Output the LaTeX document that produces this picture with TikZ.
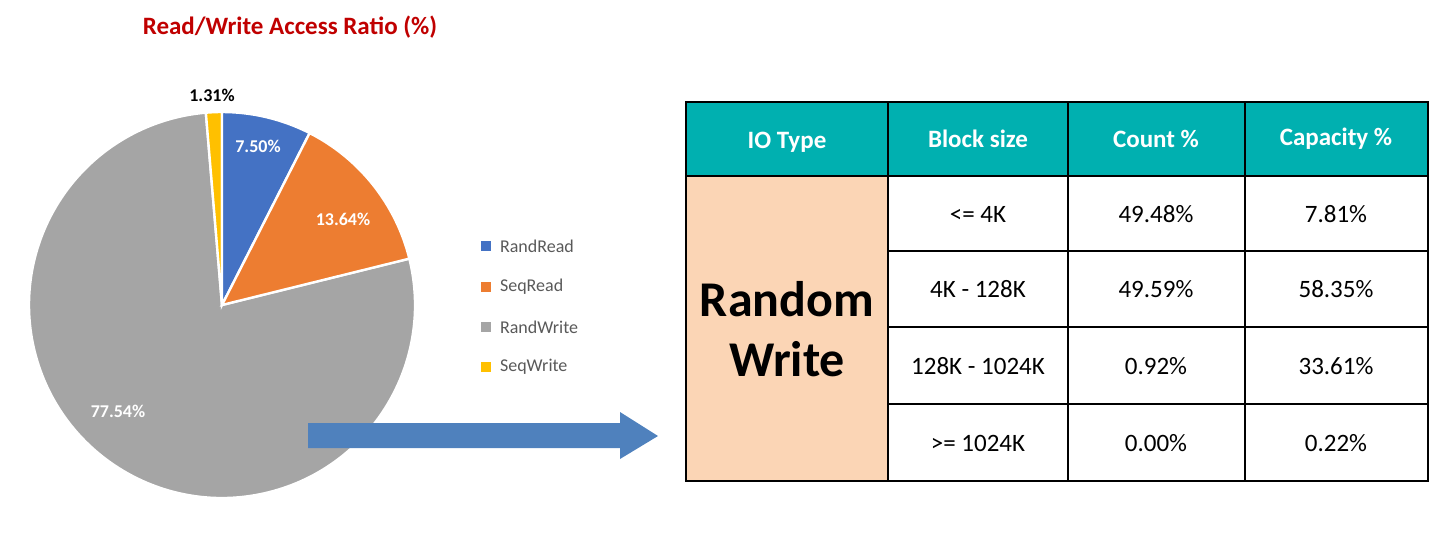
\documentclass[tikz,border=0pt]{standalone}
\usepackage{fontspec}
\setmainfont{Carlito}
\definecolor{cblue}{HTML}{4472C4}
\definecolor{corange}{HTML}{ED7D31}
\definecolor{cgray}{HTML}{A5A5A5}
\definecolor{cyellow}{HTML}{FFC000}
\definecolor{ctitle}{HTML}{C00000}
\definecolor{cteal}{HTML}{00B0B0}
\definecolor{cpeach}{HTML}{FBD5B5}
\definecolor{carrow}{HTML}{4F81BD}
\definecolor{clegend}{HTML}{595959}
\begin{document}
\begin{tikzpicture}[x=0.5pt,y=0.5pt,
  slice/.style={draw=white,line width=1.2pt},
  plab/.style={font=\fontsize{9}{10}\selectfont\bfseries,text=white},
  leg/.style={font=\fontsize{9}{10}\selectfont,text=clegend,anchor=west},
  hdr/.style={font=\fontsize{12.5}{14}\selectfont\bfseries,text=white},
  cell/.style={font=\fontsize{12.5}{14}\selectfont}]
\useasboundingbox (0,0) rectangle (1453,554);
\node[font=\fontsize{12.5}{14}\selectfont\bfseries,text=ctitle] (title) at (290,527) {Read/Write Access Ratio (\%)};
% pie
\coordinate (c) at (222,249);
\def\R{193}
\fill[cgray,slice] (c) -- ++(13.9:\R) arc[start angle=13.9,end angle=-265.2,radius=\R] -- cycle;
\fill[cyellow,slice] (c) -- ++(94.8:\R) arc[start angle=94.8,end angle=90,radius=\R] -- cycle;
\fill[cblue,slice] (c) -- ++(90:\R) arc[start angle=90,end angle=63,radius=\R] -- cycle;
\fill[corange,slice] (c) -- ++(63:\R) arc[start angle=63,end angle=13.9,radius=\R] -- cycle;
\node[plab] (l1) at (258,408) {7.50\%};
\node[plab] (l2) at (343,335) {13.64\%};
\node[plab] (l3) at (118,143) {77.54\%};
\node[font=\fontsize{9}{10}\selectfont\bfseries] (l4) at (212,459) {1.31\%};
% legend
\foreach \col/\txt/\yy [count=\i] in {cblue/RandRead/308,corange/SeqRead/267,cgray/RandWrite/227,cyellow/SeqWrite/187}{
  \fill[\col] (481,\yy-5) rectangle (491,\yy+5);
  \node[leg] (leg\i) at (493,\yy) {\txt};
}
% arrow
\fill[carrow] (308,106) -- (620,106) -- (620,95) -- (658,118) -- (620,142) -- (620,131) -- (308,131) -- cycle;
% table
\fill[cteal] (686,378) rectangle (1428,452);
\fill[cpeach] (686,73) rectangle (888,378);
\draw[line width=1pt] (686,73) rectangle (1428,452);
\foreach \x in {888,1068,1245} \draw[line width=1pt] (\x,73) -- (\x,452);
\draw[line width=1pt] (686,378) -- (1428,378);
\foreach \y in {303,227,150} \draw[line width=1pt] (888,\y) -- (1428,\y);
\node[hdr] (h1) at (787,412) {IO Type};
\node[hdr] (h2) at (978,415) {Block size};
\node[hdr] (h3) at (1156,415) {Count \%};
\node[hdr] (h4) at (1336,415) {Capacity \%};
\node[font=\fontsize{25}{30}\selectfont\bfseries,align=center] (rw) at (787,225) {Random\\Write};
\foreach \a/\b/\cc/\yy [count=\i] in {{<= 4K}/49.48\%/7.81\%/340, {4K - 128K}/49.59\%/58.35\%/265, {128K - 1024K}/0.92\%/33.61\%/188, {>= 1024K}/0.00\%/0.22\%/111}{
  \node[cell] (a\i) at (978,\yy) {\a};
  \node[cell] (b\i) at (1156,\yy) {\b};
  \node[cell] (c\i) at (1336,\yy) {\cc};
}
\end{tikzpicture}
\end{document}
